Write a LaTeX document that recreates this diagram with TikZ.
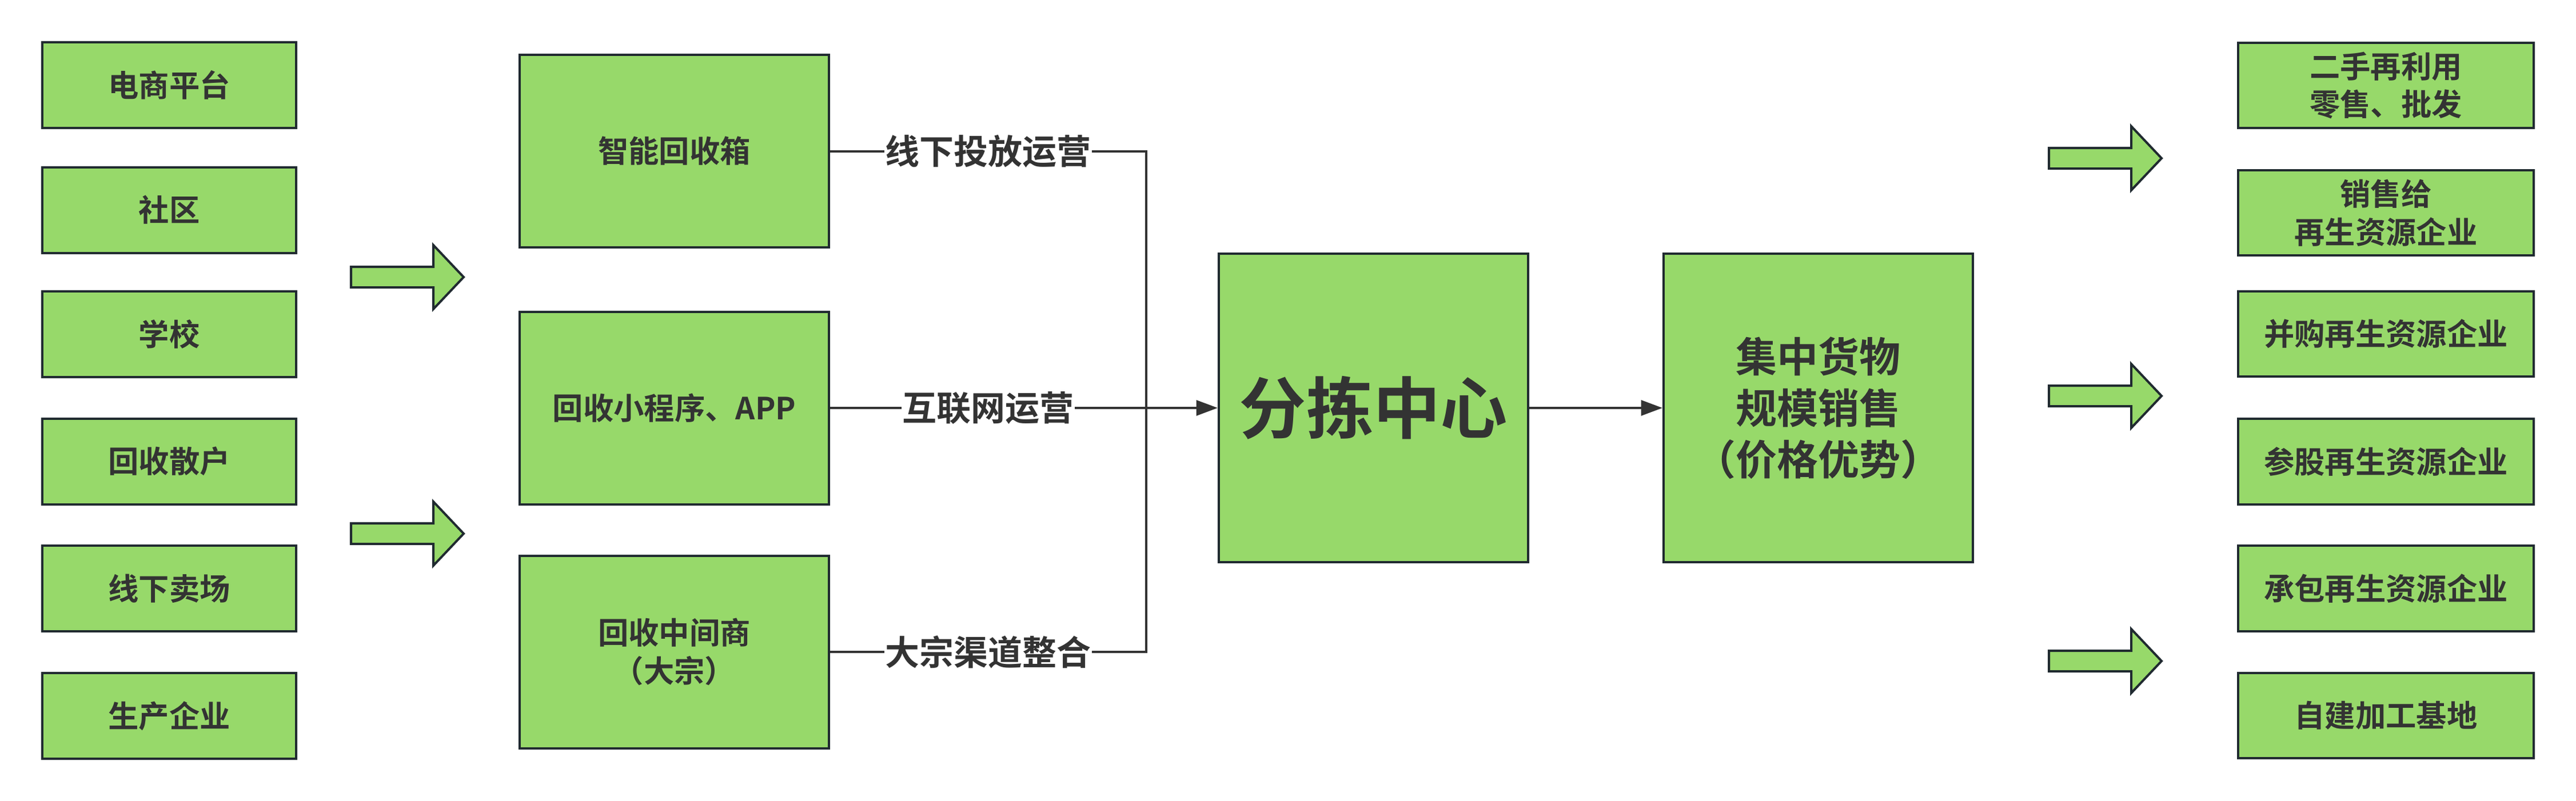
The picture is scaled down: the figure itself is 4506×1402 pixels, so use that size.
\documentclass[tikz,border=0pt]{standalone}
\usepackage{fontspec}
\setmainfont{Noto Sans CJK SC}[BoldFont={Noto Sans CJK SC Bold}]
\usetikzlibrary{arrows.meta}

\definecolor{boxgreen}{RGB}{151,217,106}
\definecolor{boxline}{RGB}{32,42,48}
\definecolor{txt}{RGB}{51,51,51}

\tikzset{every picture/.style={line width=3pt}}
\tikzset{
  srcbox/.style={draw=boxline, fill=boxgreen, text=txt, font=\fontsize{40}{50}\selectfont\bfseries,
    minimum width=333pt, minimum height=112.5pt, align=center, inner sep=0pt},
  chanbox/.style={srcbox, minimum width=405.75pt, minimum height=252.75pt},
  hubbox/.style={srcbox, minimum width=405.75pt, minimum height=405pt},
  outbox/.style={srcbox, minimum width=387.75pt, minimum height=112pt},
  lbl/.style={fill=white, text=txt, font=\fontsize{45}{54}\selectfont\bfseries, inner sep=1pt},
  link/.style={draw=txt, line width=3pt},
  bigarrow/.style={draw=boxline, fill=boxgreen, line width=3pt, line join=miter}
}

\begin{document}
\begin{tikzpicture}[x=0.75pt,y=0.75pt,yscale=-1,xscale=1]
\useasboundingbox (0,0) rectangle (4506,1402);

% sources
\node[srcbox] (src1) at (296,149) {电商平台};
\node[srcbox] (src2) at (296,367.5) {社区};
\node[srcbox] (src3) at (296,584.5) {学校};
\node[srcbox] (src4) at (296,807.5) {回收散户};
\node[srcbox] (src5) at (296,1030) {线下卖场};
\node[srcbox] (src6) at (296,1253) {生产企业};

% block arrows
\foreach \yc in {485,934}
  \draw[bigarrow] (614,\yc-18) -- (758,\yc-18) -- (758,\yc-56) -- (811,\yc) -- (758,\yc+56) -- (758,\yc+18) -- (614,\yc+18) -- cycle;
\foreach \yc in {277,693,1157}
  \draw[bigarrow] (3584,\yc-18) -- (3728,\yc-18) -- (3728,\yc-56) -- (3781,\yc) -- (3728,\yc+56) -- (3728,\yc+18) -- (3584,\yc+18) -- cycle;

% channels
\node[chanbox] (box) at (1179.5,264.5) {智能回收箱};
\node[chanbox] (app) at (1179.5,714) {回收小程序、APP};
\node[chanbox] (mid) at (1179.5,1141) {回收中间商\\（大宗）};

% sorting and sales
\node[hubbox, font=\fontsize{88}{100}\selectfont\bfseries] (sort) at (2402.5,714) {分拣中心};
\node[hubbox, font=\fontsize{54}{67.5}\selectfont\bfseries] (sale) at (3180.5,714) {集中货物\\规模销售\\（价格优势）};

\coordinate (join) at (2005,714);

% connectors
\draw[link] (box.east) -| node[lbl, pos=0.25] {线下投放运营} (join);
\draw[link] (mid.east) -| node[lbl, pos=0.25] {大宗渠道整合} (join);
\draw[link] (app.east) -- node[lbl] {互联网运营} (join);
\draw[link, -{Triangle[length=28pt,width=20pt]}] (join) -- (sort.west);
\draw[link, -{Triangle[length=28pt,width=20pt]}] (sort.east) -- (sale.west);

% outlets
\node[outbox] (out1) at (4173.5,149.5) {二手再利用\\零售、批发};
\node[outbox] (out2) at (4173.5,372.5) {销售给\\再生资源企业};
\node[outbox] (out3) at (4173.5,584.5) {并购再生资源企业};
\node[outbox] (out4) at (4173.5,808) {参股再生资源企业};
\node[outbox] (out5) at (4173.5,1030) {承包再生资源企业};
\node[outbox] (out6) at (4173.5,1252.5) {自建加工基地};

\end{tikzpicture}
\end{document}
